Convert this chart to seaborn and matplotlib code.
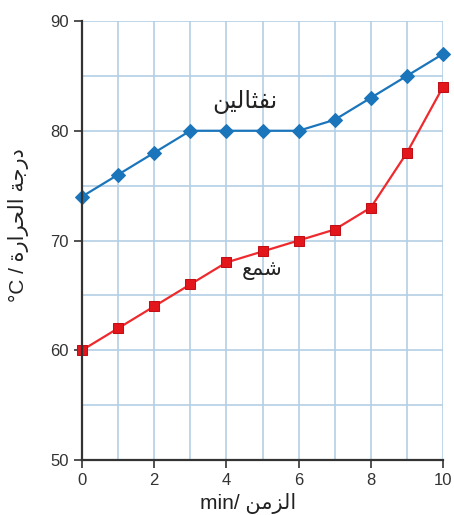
import pandas as pd
import matplotlib.pyplot as plt
import seaborn as sns

# Daten
time_min = [0, 1, 2, 3, 4, 5, 6, 7, 8, 9, 10]
naphthalene = [74, 76, 78, 80, 80, 80, 80, 81, 83, 85, 87]
wax = [60, 62, 64, 66, 68, 69, 70, 71, 73, 78, 84]

# Arabische Beschriftungen (Darstellungsformen, visuelle Reihenfolge)
label_naph = "\uFEE6\uFEF4\uFEDF\uFE8E\uFE9C\uFED4\uFEE7"          # نفثالين
label_wax = "\uFECA\uFEE4\uFEB7"                                   # شمع
xlabel = "min/ " + "\uFEE6\uFEE3\uFEB0\uFEDF\uFE8D"                # الزمن / min
ylabel = "°C / " + "\uFE93\uFEAD\uFE8D\uFEAE\uFEA4\uFEDF\uFE8D" + " " + "\uFE94\uFE9F\uFEAD\uFEA9"  # درجة الحرارة / °C

sns.set_theme(style="white")
plt.rcParams['font.family'] = ['Liberation Sans', 'DejaVu Sans']

df = pd.DataFrame({"t": time_min, "naph": naphthalene, "wax": wax})

fig = plt.figure(figsize=(4.54, 5.15), dpi=100)
ax = fig.add_axes([0.1806, 0.1068, 0.7952, 0.8524])

grid_col = "#b3cfe4"
ax.set_xlim(0, 10)
ax.set_ylim(50, 90)
ax.set_xticks(range(0, 11, 2))
ax.set_xticks(range(0, 11), minor=True)
ax.set_yticks(range(50, 91, 10))
ax.set_yticks(range(50, 91, 5), minor=True)
ax.grid(which="both", color=grid_col, linewidth=1.2)
ax.set_axisbelow(True)

sns.lineplot(data=df, x="t", y="naph", ax=ax, color="#1b75bb", linewidth=1.6,
             marker="D", markersize=7.5, markeredgecolor="#1b75bb", clip_on=False)
sns.lineplot(data=df, x="t", y="wax", ax=ax, color="#ee2a2e", linewidth=1.6,
             marker="s", markersize=7.5, markerfacecolor="#e3161c",
             markeredgecolor="#c01015", clip_on=False)

for side in ["top", "right"]:
    ax.spines[side].set_visible(False)
for side in ["left", "bottom"]:
    ax.spines[side].set_color("#333333")
    ax.spines[side].set_linewidth(1.6)

ax.tick_params(which="major", direction="out", length=6, width=1.2, color="#333333",
               labelsize=12, labelcolor="#333333", left=True, bottom=True)
ax.tick_params(which="minor", length=0)

ax.text(4.5, 82.6, label_naph, fontsize=17, ha="center", va="center",
        family=["DejaVu Sans"], color="#222222")
ax.text(5.0, 67.3, label_wax, fontsize=15, ha="center", va="center",
        family=["DejaVu Sans"], color="#222222")

ax.set_xlabel(xlabel, fontsize=15, color="#222222")
ax.xaxis.set_label_coords(0.46, -0.075)
ax.set_ylabel(ylabel, fontsize=15, color="#222222")
ax.yaxis.set_label_coords(-0.148, 0.535)

plt.savefig("out.png", dpi=100)
